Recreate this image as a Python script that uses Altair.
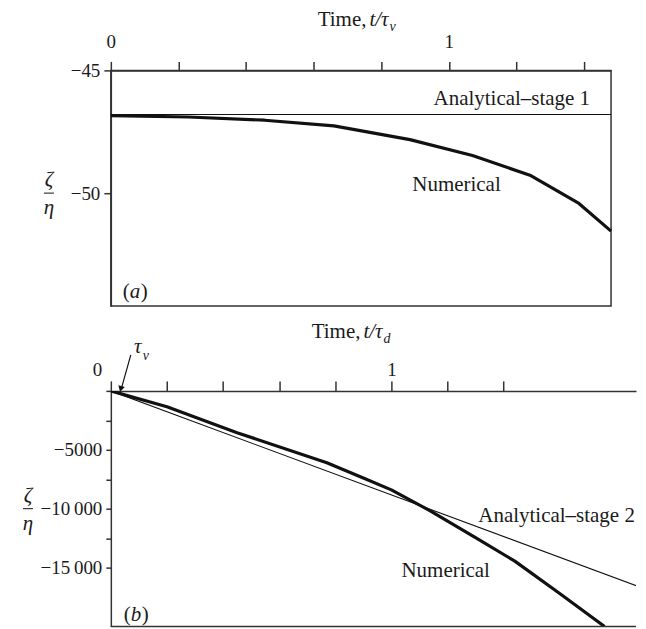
import altair as alt
import pandas as pd

# ---------------- data ----------------
# panel (a): time t/tau_v, zeta/eta
t_a_num = [0, 0.23, 0.455, 0.66, 0.885, 1.07, 1.24, 1.385, 1.48]
z_a_num = [-46.84, -46.9, -47.03, -47.26, -47.82, -48.47, -49.27, -50.42, -51.55]
t_a_ana = [0, 1.48]
z_a_ana = [-46.8, -46.8]

# panel (b): time t/tau_d, zeta/eta
t_b_num = [0, 0.2, 0.45, 0.77, 0.9, 1.0, 1.14, 1.3, 1.44, 1.6, 1.76]
z_b_num = [0, -1350, -3550, -6100, -7400, -8400, -10200, -12450, -14450, -17200, -20000]
t_b_ana = [0, 1.88]
z_b_ana = [0, -16600]

x_ticks = [0, 0.2, 0.4, 0.6, 0.8, 1.0, 1.2, 1.4]
y_a_ticks = [-45, -50]
y_b_ticks = [0, -2500, -5000, -7500, -10000, -12500, -15000]

x_a_domain = [0, 1.48]
y_a_domain = [-54.6, -45]
x_b_domain = [0, 1.872]
y_b_domain = [-20000, 0]

# ---------------- style ----------------
FONT = "Liberation Serif"
INK = "#111111"
FRAME = "#333333"
FS = 21
TFS = 19
W_A, H_A = 501, 236
W_B, H_B = 526, 236

one = pd.DataFrame({"k": [0]})

common_axis = dict(
    title=None, grid=False, labelFlush=False, labelOverlap=False,
    labelFont=FONT, labelFontSize=TFS, labelColor="#1a1a1a",
    domainColor=FRAME, domainWidth=1.5, tickColor=FRAME, tickWidth=1.5,
)

ax_top_a = alt.Axis(
    orient="top", values=x_ticks,
    labelExpr="datum.value == 0 ? '0' : (datum.value == 1 ? '1' : '')",
    tickSize=9, labelPadding=10, **common_axis,
)
ax_left_a = alt.Axis(values=y_a_ticks, tickSize=7, labelPadding=4, **common_axis)

ax_top_b = alt.Axis(
    orient="top", values=x_ticks,
    labelExpr="datum.value == 0 ? '0' : (datum.value == 1 ? '1' : '')",
    labelAlign={"condition": {"test": "datum.value == 0", "value": "right"}, "value": "center"},
    labelOffset={"condition": {"test": "datum.value == 0", "value": -9}, "value": 0},
    tickSize=10, labelPadding=1, **common_axis,
)
ax_left_b = alt.Axis(
    values=y_b_ticks, tickSize=5, labelPadding=4,
    labelExpr="datum.value == -5000 ? '−5000' : (datum.value == -10000 ? '−10\u2009000' : (datum.value == -15000 ? '−15\u2009000' : ''))",
    **common_axis,
)

xs_a = alt.Scale(domain=x_a_domain, nice=False, zero=False)
ys_a = alt.Scale(domain=y_a_domain, nice=False, zero=False)
xs_b = alt.Scale(domain=x_b_domain, nice=False, zero=False)
ys_b = alt.Scale(domain=y_b_domain, nice=False, zero=False)


def XY(xs, ys, xa, ya, xf="x", yf="y"):
    return dict(x=alt.X(f"{xf}:Q", scale=xs, axis=xa), y=alt.Y(f"{yf}:Q", scale=ys, axis=ya))


def txt(text, x, y, size=FS, style="normal", align="left", baseline="alphabetic"):
    return alt.Chart(one).mark_text(
        text=text, font=FONT, fontSize=size, fontStyle=style, color="#1a1a1a",
        align=align, baseline=baseline,
    ).encode(x=alt.value(x), y=alt.value(y))


def data_txt(text, xv, yv, enc, align="left"):
    df = pd.DataFrame({"x": [xv], "y": [yv]})
    return alt.Chart(df).mark_text(
        text=text, font=FONT, fontSize=FS, color="#1a1a1a", align=align, baseline="alphabetic"
    ).encode(**enc)


def label_paren(letter, xv, yv, enc):
    df = pd.DataFrame({"x": [xv], "y": [yv]})
    base = alt.Chart(df).encode(**enc)
    kw = dict(font=FONT, fontSize=FS, color="#1a1a1a", baseline="alphabetic", align="left")
    return alt.layer(
        base.mark_text(text="(", **kw),
        base.mark_text(text=letter, dx=7, fontStyle="italic", **kw),
        base.mark_text(text=")", dx=18, **kw),
    )


def fraction(xc, yc):
    bar = alt.Chart(one).mark_rule(color=INK, strokeWidth=1).encode(
        x=alt.value(xc - 5), x2=alt.value(xc + 5), y=alt.value(yc), y2=alt.value(yc)
    )
    return alt.layer(
        txt("ζ", xc, yc - 13, style="italic", align="center", baseline="middle"),
        bar,
        txt("η", xc, yc + 15, style="italic", align="center", baseline="middle"),
    )


def time_title(anchor, y, sub):
    return alt.layer(
        txt("Time, ", anchor, y, align="right"),
        txt("t/τ", anchor + 3, y, style="italic"),
        txt(sub, anchor + 23, y + 5, size=14, style="italic"),
    )


# ---------------- panel (a) ----------------
enc_a = XY(xs_a, ys_a, ax_top_a, ax_left_a)
enc_a_t = XY(xs_a, ys_a, ax_top_a, ax_left_a, "t", "z")

df_a_num = pd.DataFrame({"t": t_a_num, "z": z_a_num})
df_a_ana = pd.DataFrame({"t": t_a_ana, "z": z_a_ana})

ana_a = alt.Chart(df_a_ana).mark_line(color=INK, strokeWidth=1.1).encode(**enc_a_t)
num_a = alt.Chart(df_a_num).mark_line(color=INK, strokeWidth=3.2, strokeJoin="round").encode(**enc_a_t)

panel_a = alt.layer(
    ana_a,
    num_a,
    data_txt("Analytical–stage 1", 1.418, -46.42, enc_a, align="right"),
    data_txt("Numerical", 0.892, -49.92, enc_a),
    label_paren("a", 0.035, -54.27, enc_a),
    time_title(256, -44, "v"),
    fraction(-62, H_A * 5 / 9.6),
).properties(
    width=W_A, height=H_A,
    view=alt.ViewBackground(stroke=FRAME, strokeWidth=1.5),
)

# ---------------- panel (b) ----------------
enc_b = XY(xs_b, ys_b, ax_top_b, ax_left_b)
enc_b_t = XY(xs_b, ys_b, ax_top_b, ax_left_b, "t", "z")

df_b_num = pd.DataFrame({"t": t_b_num, "z": z_b_num})
df_b_ana = pd.DataFrame({"t": t_b_ana, "z": z_b_ana})

ana_b = alt.Chart(df_b_ana).mark_line(color=INK, strokeWidth=1.1, clip=True).encode(**enc_b_t)
num_b = alt.Chart(df_b_num).mark_line(color=INK, strokeWidth=3.2, strokeJoin="round", clip=True).encode(**enc_b_t)

bottom_edge = alt.Chart(one).mark_rule(color=FRAME, strokeWidth=1.5).encode(
    x=alt.value(0), x2=alt.value(W_B), y=alt.value(H_B), y2=alt.value(H_B)
)
arrow = alt.Chart(one).mark_rule(color=INK, strokeWidth=1.2).encode(
    x=alt.value(20), y=alt.value(-36), x2=alt.value(11), y2=alt.value(-4)
)
arrow_head = alt.Chart(one).mark_point(
    shape="triangle-down", filled=True, size=45, angle=16, color=INK, opacity=1
).encode(x=alt.value(10), y=alt.value(-2))

panel_b = alt.layer(
    ana_b,
    num_b,
    bottom_edge,
    arrow,
    arrow_head,
    txt("τ", 27, -44, style="italic", align="center", baseline="middle"),
    txt("v", 32, -35, size=14, style="italic", align="left", baseline="middle"),
    data_txt("Analytical–stage 2", 1.31, -11100, enc_b),
    data_txt("Numerical", 1.036, -15760, enc_b),
    label_paren("b", 0.046, -19500, enc_b),
    time_title(250, -53, "d"),
    fraction(-83, H_B * 10000 / 20000),
).properties(
    width=W_B, height=H_B,
    view=alt.ViewBackground(stroke="transparent"),
)

chart = alt.vconcat(panel_a, panel_b, spacing=13).properties(
    padding={"left": 14, "top": 0, "right": 0, "bottom": 0},
    background="white",
)

chart.save("out.html", embed_options={"renderer": "svg", "actions": False})
